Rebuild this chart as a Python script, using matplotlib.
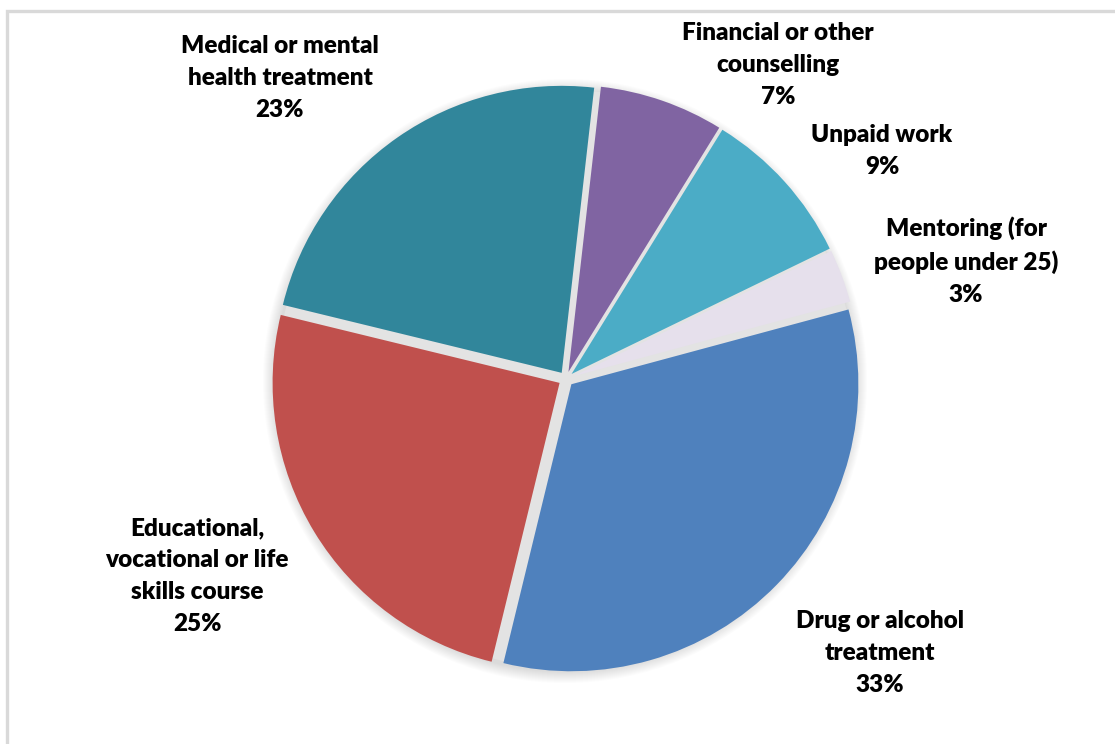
import matplotlib.pyplot as plt
import matplotlib.patches as mpatches
from matplotlib.lines import Line2D

# slice data, clockwise from the top
labels = ['Financial or other\ncounselling', 'Unpaid work',
          'Mentoring (for\npeople under 25)', 'Drug or alcohol\ntreatment',
          'Educational,\nvocational or life\nskills course',
          'Medical or mental\nhealth treatment']
shares = [7, 9, 3, 33, 25, 23]
colors = ['#8064A2', '#4BACC6', '#E6E0EC', '#4F81BD', '#C0504D', '#31869B']

# label anchor points (pixel space, y measured from the bottom)
label_x = [778, 882, 966, 880, 197, 280]
label_y = [744 - 65, 744 - 151, 744 - 261, 744 - 653, 744 - 576, 744 - 78]

W, H = 1115, 744
cx, cy, r = 566, 744 - 379, 287

plt.rcParams['font.family'] = ['Lato', 'DejaVu Sans']

fig = plt.figure(figsize=(W / 100, H / 100), dpi=100)
ax = fig.add_axes([0, 0, 1, 1])

# soft shadow around the pie
for k in range(12, 0, -1):
    ax.add_patch(mpatches.Circle((cx - 1, cy - 2), r + 3 + k, color='#808080',
                                 alpha=0.025, lw=0, zorder=1))
ax.add_patch(mpatches.Circle((cx, cy), r + 2, color='#E3E3E3', lw=0, zorder=2))

# explode is in data units here (pixels)
wedges, _ = ax.pie(shares, colors=colors, startangle=83.5, counterclock=False,
                   center=(cx, cy), radius=r, explode=[7.5] * len(shares),
                   frame=True, wedgeprops=dict(linewidth=0))
for w in wedges:
    w.set_zorder(3)
ax.set_xlim(0, W)
ax.set_ylim(0, H)
ax.set_aspect('equal')
ax.axis('off')

for lab, v, x, y in zip(labels, shares, label_x, label_y):
    ax.text(x, y, f'{lab}\n{v}%', ha='center', va='center', fontsize=17.5,
            fontweight='heavy', color='black', linespacing=1.55, zorder=5)

# chart frame (top and left edges)
ax.add_line(Line2D([7, 7, W], [0, H - 11, H - 11], color='#D9D9D9', lw=2.4,
                   solid_joinstyle='miter', zorder=6))

fig.savefig('out.png', dpi=100)
